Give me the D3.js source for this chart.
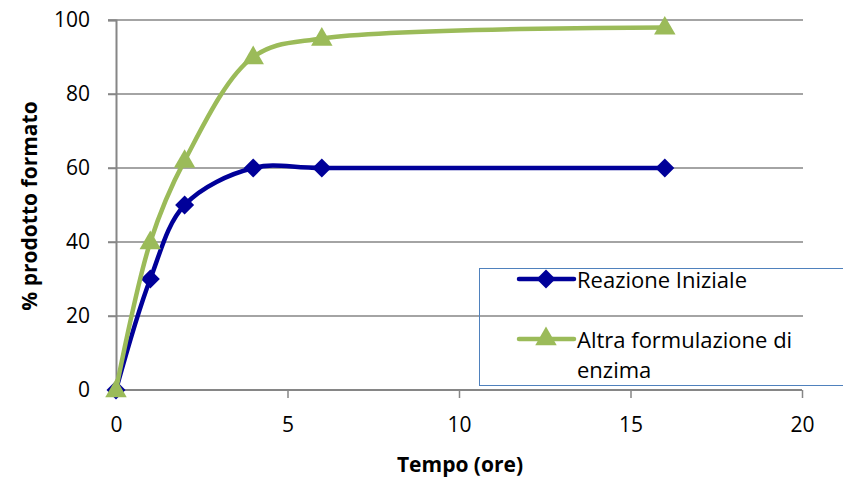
<!DOCTYPE html>
<html lang="it">
<head>
<meta charset="UTF-8">
<title>% prodotto formato</title>
<script src="https://d3js.org/d3.v7.min.js"></script>
<style>
  body { margin: 0; background: #fff; }
  svg { font-family: "Open Sans", "Noto Sans", sans-serif; }
</style>
</head>
<body>
<svg width="843" height="478"></svg>
<script>
const tempo = [0, 1, 2, 4, 6, 16];
const reazioneIniziale = [0, 30, 50, 60, 60, 60];
const altraFormulazione = [0, 40, 62, 90, 95, 98];
const xTicks = [0, 5, 10, 15, 20];
const yTicks = [0, 20, 40, 60, 80, 100];

const svg = d3.select("svg");
const x = d3.scaleLinear().domain([0, 20]).range([116, 802]);
const y = d3.scaleLinear().domain([0, 100]).range([390, 20]);
const grid = "#868686";

// horizontal gridlines
svg.append("g")
  .selectAll("line")
  .data(yTicks.filter(d => d > 0))
  .join("line")
  .attr("x1", 108).attr("x2", 803)
  .attr("y1", d => y(d)).attr("y2", d => y(d))
  .attr("stroke", grid).attr("stroke-width", 1.5);

// y axis
const yAxis = svg.append("g").attr("transform", "translate(116,0)")
  .call(d3.axisLeft(y).tickValues(yTicks).tickSize(8).tickPadding(18));
// x axis
const xAxis = svg.append("g").attr("transform", "translate(0,390)")
  .call(d3.axisBottom(x).tickValues(xTicks).tickSize(8).tickPadding(19));

[yAxis, xAxis].forEach(a => {
  a.select(".domain").attr("stroke", grid).attr("stroke-width", 2);
  a.selectAll(".tick line").attr("stroke", grid).attr("stroke-width", 1.5);
  a.selectAll(".tick text").attr("fill", "#000").style("font-size", "21px").style("font-family", "'Open Sans', sans-serif");
});
xAxis.select(".domain").attr("d", "M116,0H802");

// axis titles
svg.append("text")
  .attr("transform", "translate(37,206) rotate(-90)")
  .attr("text-anchor", "middle")
  .style("font-size", "21px").style("font-weight", "bold")
  .text("% prodotto formato");
svg.append("text")
  .attr("x", 460).attr("y", 472)
  .attr("text-anchor", "middle")
  .style("font-size", "21px").style("font-weight", "bold")
  .text("Tempo (ore)");

const series = [
  { name: "Reazione Iniziale", values: reazioneIniziale, color: "#000099", marker: d3.symbolDiamond2, size: 230 },
  { name: "Altra formulazione di enzima", values: altraFormulazione, color: "#9BBB59", marker: d3.symbolTriangle, size: 200 }
];

const line = d3.line()
  .x(d => x(d[0])).y(d => y(d[1]))
  .curve(d3.curveCatmullRom.alpha(0.5));

series.forEach(s => {
  const pts = tempo.map((t, i) => [t, s.values[i]]);
  svg.append("path")
    .datum(pts)
    .attr("d", line)
    .attr("fill", "none")
    .attr("stroke", s.color)
    .attr("stroke-width", 4.5)
    .attr("stroke-linejoin", "round");
  svg.append("g")
    .selectAll("path")
    .data(pts)
    .join("path")
    .attr("transform", d => `translate(${x(d[0])},${y(d[1]) + (s.marker === d3.symbolTriangle ? 1 : 0)})`)
    .attr("d", d3.symbol(s.marker, s.size))
    .attr("fill", s.color);
});

// legend
const lg = svg.append("g");
lg.append("rect")
  .attr("x", 479.5).attr("y", 268.5).attr("width", 380).attr("height", 117)
  .attr("fill", "none").attr("stroke", "#4F81BD").attr("stroke-width", 1);
const legendRows = [
  { s: series[0], y: 279, lines: ["Reazione Iniziale"] },
  { s: series[1], y: 339, lines: ["Altra formulazione di", "enzima"] }
];
legendRows.forEach(r => {
  lg.append("line")
    .attr("x1", 519).attr("x2", 574).attr("y1", r.y).attr("y2", r.y)
    .attr("stroke", r.s.color).attr("stroke-width", 4.5).attr("stroke-linecap", "round");
  lg.append("path")
    .attr("transform", `translate(546,${r.y})`)
    .attr("d", d3.symbol(r.s.marker, r.s.size))
    .attr("fill", r.s.color);
  const t = lg.append("text").attr("x", 577).attr("y", r.y + 9).style("font-size", "22px");
  r.lines.forEach((l, i) => t.append("tspan").attr("x", 577).attr("dy", i === 0 ? 0 : 30).text(l));
});
</script>
</body>
</html>
